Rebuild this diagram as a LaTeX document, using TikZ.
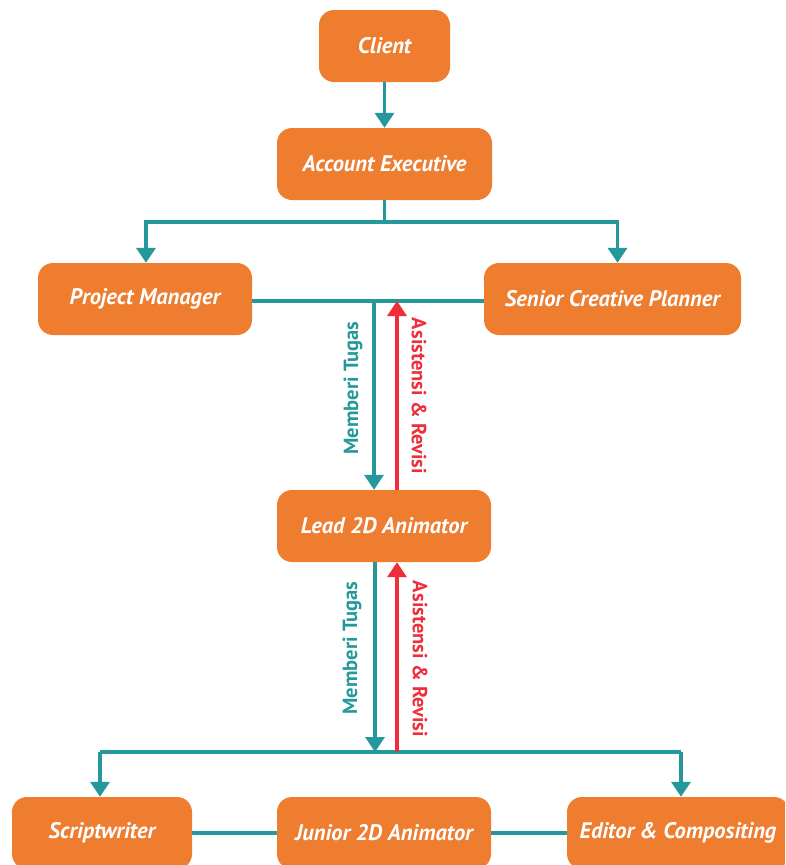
\documentclass[tikz,border=0pt]{standalone}
\usepackage{fontspec}
\setmainfont{PT Sans}
\usetikzlibrary{arrows.meta}
\definecolor{boxorange}{HTML}{EE7D30}
\definecolor{lineteal}{HTML}{24989A}
\definecolor{linered}{HTML}{EE2F3B}
\tikzset{
  box/.style={fill=boxorange, rounded corners=15pt, minimum height=72pt, inner sep=0pt,
    text=white, font=\fontsize{22.5}{26}\selectfont\bfseries\itshape},
  tline/.style={draw=lineteal, line width=3.5pt},
  tarrow/.style={tline, -{Triangle[width=19pt,length=15pt]}},
  rarrow/.style={draw=linered, line width=3.5pt, -{Triangle[width=19pt,length=15pt]}},
  tlabel/.style={text=lineteal, font=\fontsize{20.5}{24}\selectfont\bfseries, rotate=90},
  rlabel/.style={text=linered, font=\fontsize{20.5}{24}\selectfont\bfseries, rotate=-90},
}
\begin{document}
\begin{tikzpicture}[x=1pt,y=-1pt]
\clip (0,0) rectangle (785,865);
\fill[white] (0,0) rectangle (785,865);

\node[box, minimum width=131pt] (client) at (384.5,46) {Client};
\node[box, minimum width=215pt] (ae) at (384.5,164) {Account Executive};
\node[box, minimum width=214pt] (pm) at (145,299) {Project Manager};
\node[box, minimum width=257pt] (scp) at (612.5,299) {Senior Creative Planner};
\node[box, minimum width=214pt] (lead) at (384,526) {Lead 2D Animator};
\node[box, minimum width=180pt] (sw) at (102,833) {Scriptwriter};
\node[box, minimum width=214pt] (jr) at (384,833) {Junior 2D Animator};
\node[box, minimum width=222pt] (ed) at (678,833) {Editor \& Compositing};

% top connectors
\draw[tarrow] (client.south) -- (ae.north);
\coordinate (j1) at (384.5,222);
\draw[tline] (ae.south) -- (j1);
\draw[tarrow] (j1) -| ([xshift=1pt]pm.north);
\draw[tarrow] (j1) -| ([xshift=5pt]scp.north);

% PM - SCP line
\coordinate (pmr) at ([yshift=-2pt]pm.east);
\coordinate (scpl) at ([yshift=-2pt]scp.west);
\draw[tline] (pmr) -- (scpl);

% middle pair
\coordinate (t1a) at (374,301);
\coordinate (r1a) at (397,301);
\draw[tarrow] (t1a) -- (t1a |- lead.north);
\draw[rarrow] (r1a |- lead.north) -- (r1a);
\node[tlabel] (lt1) at (353,388) {Memberi Tugas};
\node[rlabel] (lr1) at (419,396) {Asistensi \& Revisi};

% lower pair
\coordinate (j2) at (384,752);
\coordinate (t2a) at (375,752);
\coordinate (r2a) at (397,752);
\draw[tline] (100,752) -- (681,752);
\draw[tarrow] (t2a |- lead.south) -- (t2a);
\draw[rarrow] (r2a) -- (r2a |- lead.south);
\draw[tarrow] ([xshift=-2pt]sw.north |- j2) -- ([xshift=-2pt]sw.north);
\draw[tarrow] ([xshift=3pt]ed.north |- j2) -- ([xshift=3pt]ed.north);
\node[tlabel] (lt2) at (352,648) {Memberi Tugas};
\node[rlabel] (lr2) at (420,659) {Asistensi \& Revisi};

% bottom links
\draw[tline] (sw.east) -- (jr.west);
\draw[tline] (jr.east) -- (ed.west);
\end{tikzpicture}
\end{document}
